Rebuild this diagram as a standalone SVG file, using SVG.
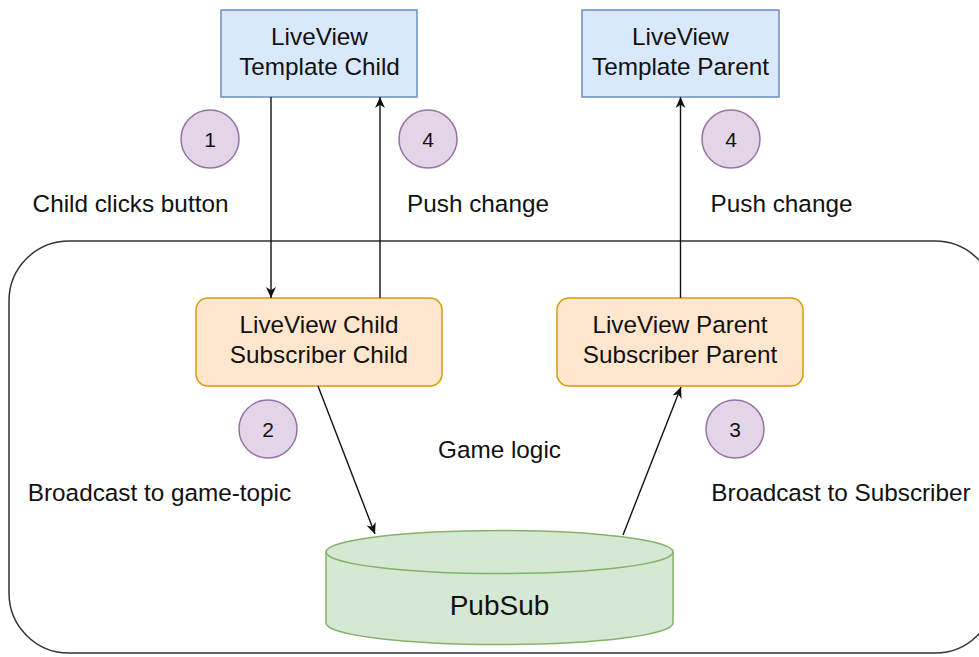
<svg xmlns="http://www.w3.org/2000/svg" width="979" height="657" viewBox="0 0 979 657">
<defs>
<style>
text{font-family:"Liberation Sans",Arial,Helvetica,sans-serif;fill:#111;}
.t{font-size:24.3px;text-anchor:middle;}
.n{font-size:21px;text-anchor:middle;}
.tmpl{fill:#dae8fc;stroke:#6c8ebf;stroke-width:1.5;}
.lv{fill:#ffe6cc;stroke:#d79b00;stroke-width:1.5;}
.db{fill:#d5e8d4;stroke:#82b366;stroke-width:1.5;}
.step{fill:#e1d5e7;stroke:#9673a6;stroke-width:1.5;}
.edge{fill:none;stroke:#111;stroke-width:1.4;marker-end:url(#arr);}
</style>
<marker id="arr" viewBox="0 0 10 10" refX="10" refY="5" markerWidth="11" markerHeight="11" markerUnits="userSpaceOnUse" orient="auto">
<path d="M0,0.5 L10,5 L0,9.5 L3,5 z" fill="#111"/>
</marker>
</defs>
<rect width="979" height="657" fill="#fff"/>
<g id="container">
<rect x="9" y="241" width="986" height="412" rx="60" ry="60" fill="none" stroke="#333" stroke-width="1.5"/>
</g>
<g id="template-child">
<rect class="tmpl" x="221" y="10" width="196" height="87"/>
<text class="t" x="319.5" y="45">LiveView</text>
<text class="t" x="319.5" y="75">Template Child</text>
</g>
<g id="template-parent">
<rect class="tmpl" x="582" y="10" width="197" height="87"/>
<text class="t" x="680.5" y="45">LiveView</text>
<text class="t" x="680.5" y="75">Template Parent</text>
</g>
<g id="liveview-child">
<rect class="lv" x="196" y="298" width="246" height="88" rx="12" ry="12"/>
<text class="t" x="319" y="333">LiveView Child</text>
<text class="t" x="319" y="363">Subscriber Child</text>
</g>
<g id="liveview-parent">
<rect class="lv" x="557" y="298" width="246" height="88" rx="12" ry="12"/>
<text class="t" x="680" y="333">LiveView Parent</text>
<text class="t" x="680" y="363">Subscriber Parent</text>
</g>
<g id="pubsub">
<path class="db" d="M326,552 A173.5,21.5 0 0 1 673,552 L673,623 A173.5,21.5 0 0 1 326,623 Z"/>
<path d="M326,552 A173.5,21.5 0 0 0 673,552" fill="none" stroke="#82b366" stroke-width="1.5"/>
<text x="499.5" y="615" style="font-size:28px;text-anchor:middle;">PubSub</text>
</g>
<g id="step1"><circle class="step" cx="210" cy="139" r="29"/><text class="n" x="210" y="146.5">1</text></g>
<g id="step4a"><circle class="step" cx="428" cy="139" r="29"/><text class="n" x="428" y="146.5">4</text></g>
<g id="step4b"><circle class="step" cx="731" cy="139" r="29"/><text class="n" x="731" y="146.5">4</text></g>
<g id="step2"><circle class="step" cx="268" cy="429" r="29"/><text class="n" x="268" y="436.5">2</text></g>
<g id="step3"><circle class="step" cx="735" cy="429" r="29"/><text class="n" x="735" y="436.5">3</text></g>
<g id="labels">
<text class="t" x="130.5" y="212">Child clicks button</text>
<text class="t" x="478" y="212">Push change</text>
<text class="t" x="781.5" y="212">Push change</text>
<text class="t" x="499.5" y="458">Game logic</text>
<text class="t" x="159.5" y="501">Broadcast to game-topic</text>
<text class="t" x="841" y="501">Broadcast to Subscriber</text>
</g>
<g id="connectors">
<path class="edge" d="M271,97 L271,298"/>
<path class="edge" d="M380,298 L380,97"/>
<path class="edge" d="M680.5,298 L680.5,97"/>
<path class="edge" d="M318,386 L375,534"/>
<path class="edge" d="M623,535 L681,387"/>
</g>
</svg>
